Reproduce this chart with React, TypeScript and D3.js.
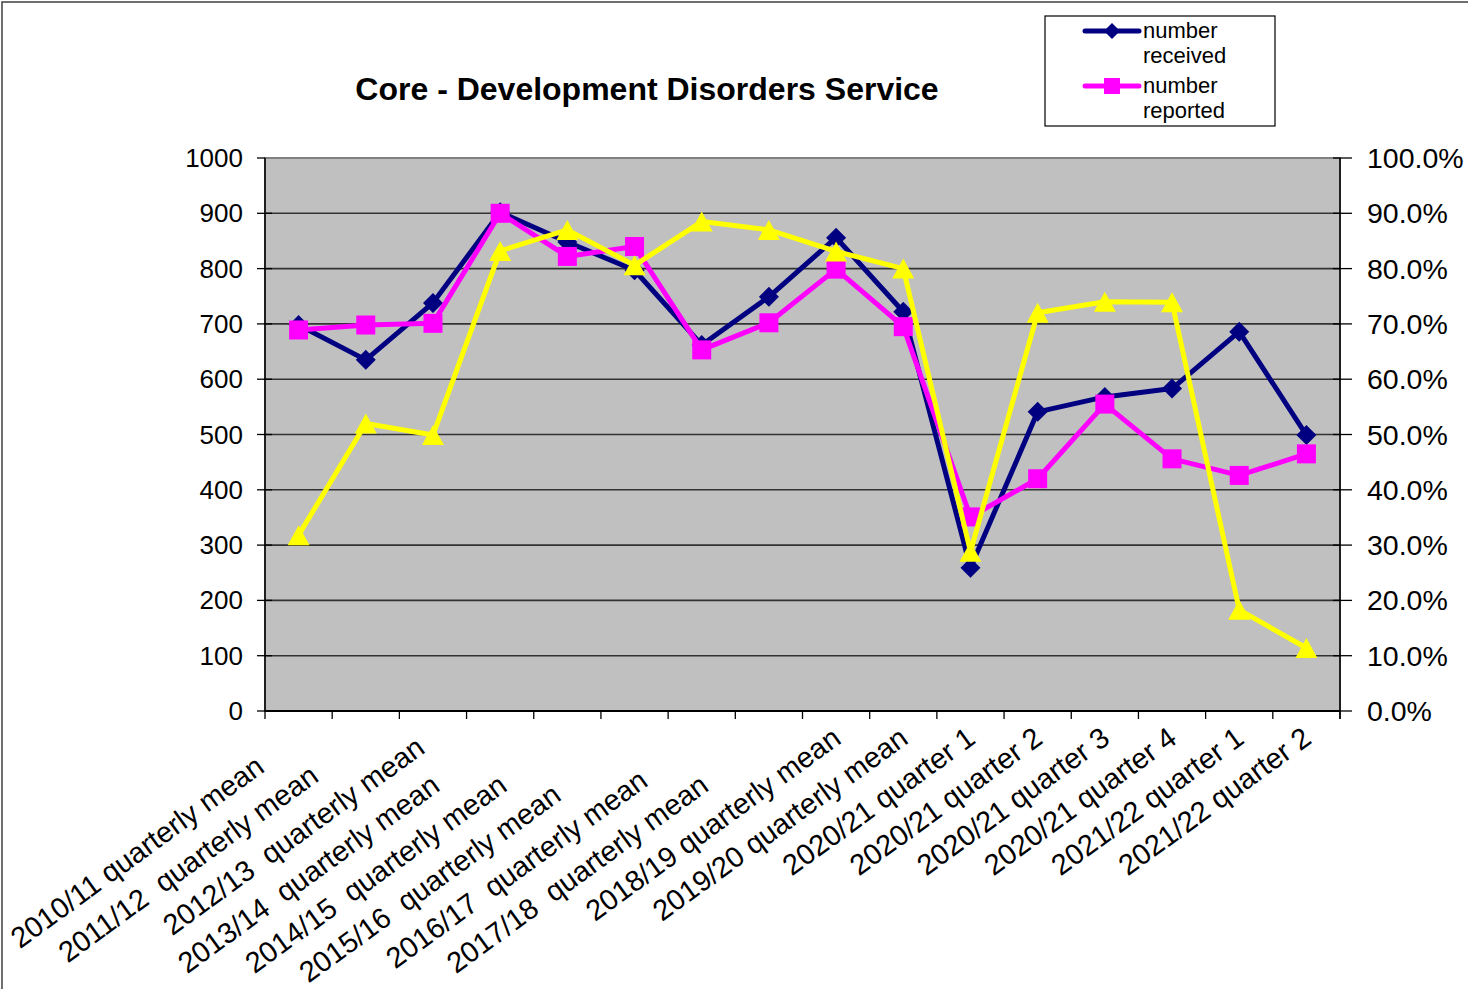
import React from "react";
import * as d3 from "d3";

const categories: string[] = [
  "2010/11 quarterly mean      ",
  "2011/12  quarterly mean        ",
  "2012/13  quarterly mean  ",
  "2013/14  quarterly mean          ",
  "2014/15  quarterly mean          ",
  "2015/16  quarterly mean            ",
  "2016/17  quarterly mean         ",
  "2017/18  quarterly mean          ",
  "2018/19 quarterly mean",
  "2019/20 quarterly mean",
  "2020/21 quarter 1",
  "2020/21 quarter 2",
  "2020/21 quarter 3",
  "2020/21 quarter 4",
  "2021/22 quarter 1",
  "2021/22 quarter 2",
];

const numberReceived: number[] = [698, 635, 738, 902, 848, 797, 662, 749, 856, 722, 259, 541, 568, 583, 686, 499];
const numberReported: number[] = [689, 698, 701, 900, 822, 840, 653, 702, 799, 695, 351, 420, 555, 456, 426, 465];
const percentReported: number[] = [0.318, 0.52, 0.499, 0.832, 0.87, 0.806, 0.885, 0.87, 0.831, 0.8, 0.288, 0.72, 0.74, 0.739, 0.183, 0.114];

const leftTicks: number[] = [0, 100, 200, 300, 400, 500, 600, 700, 800, 900, 1000];
const rightTicks: number[] = [0, 0.1, 0.2, 0.3, 0.4, 0.5, 0.6, 0.7, 0.8, 0.9, 1.0];

const title = "Core - Development Disorders Service";
const legendItems = [
  { lines: ["number", "received"], color: "#000080", marker: "diamond" },
  { lines: ["number", "reported"], color: "#FF00FF", marker: "square" },
];

const FONT = "'Liberation Sans', Arial, sans-serif";

export default function App() {
  const W = 1468, H = 989;
  const left = 265, right = 1340, top = 158, bottom = 711;
  const x = d3.scaleBand<number>().domain(d3.range(categories.length)).range([left, right]);
  const cx = (i: number) => (x(i) as number) + x.bandwidth() / 2;
  const y = d3.scaleLinear().domain([0, 1000]).range([bottom, top]);
  const yR = d3.scaleLinear().domain([0, 1]).range([bottom, top]);

  const pathRec = d3.line<number>().x((_, i) => cx(i)).y((d) => y(d))(numberReceived) as string;
  const pathRep = d3.line<number>().x((_, i) => cx(i)).y((d) => y(d))(numberReported) as string;
  const pathPct = d3.line<number>().x((_, i) => cx(i)).y((d) => yR(d))(percentReported) as string;

  const diamond = (px: number, py: number, r = 10) => `M${px},${py - r}L${px + r},${py}L${px},${py + r}L${px - r},${py}Z`;
  const triangle = (px: number, py: number) => `M${px},${py - 10}L${px + 11},${py + 10}L${px - 11},${py + 10}Z`;

  const boundaries = d3.range(categories.length + 1).map((i) => left + i * x.step());

  return (
    <svg width={W} height={H} style={{ position: "absolute", left: 0, top: 0, background: "#fff" }} fontFamily={FONT}>
      <rect x={2} y={2} width={W + 10} height={H + 10} fill="#fff" stroke="#404040" strokeWidth={1.5} />
      <text x={647} y={100} textAnchor="middle" fontSize={32} fontWeight="bold" fill="#000">{title}</text>

      {/* plot area */}
      <rect x={left} y={top} width={right - left} height={bottom - top} fill="#C0C0C0" stroke="#808080" strokeWidth={2} />
      {leftTicks.filter((t) => t > 0 && t < 1000).map((t) => (
        <line key={"g" + t} x1={left} x2={right} y1={y(t)} y2={y(t)} stroke="#333" strokeWidth={1.6} />
      ))}
      {/* axes */}
      <line x1={left} x2={left} y1={top} y2={bottom} stroke="#000" strokeWidth={1.5} />
      <line x1={right} x2={right} y1={top} y2={bottom + 8} stroke="#000" strokeWidth={1.5} />
      <line x1={left} x2={right} y1={bottom} y2={bottom} stroke="#000" strokeWidth={2} />
      {leftTicks.map((t) => (
        <g key={"l" + t}>
          <line x1={left - 8} x2={t === 1000 ? left : left + 7} y1={y(t)} y2={y(t)} stroke="#000" strokeWidth={1.3} />
          <text x={243} y={y(t) + 9} textAnchor="end" fontSize={26} fill="#000">{t}</text>
        </g>
      ))}
      {rightTicks.map((t) => (
        <g key={"r" + t}>
          <line x1={right - 7} x2={right + 12} y1={yR(t)} y2={yR(t)} stroke="#000" strokeWidth={1.3} />
          <text x={1367} y={yR(t) + 10} textAnchor="start" fontSize={28.5} fill="#000">{(t * 100).toFixed(1) + "%"}</text>
        </g>
      ))}
      {boundaries.map((b, i) => (
        <line key={"b" + i} x1={b} x2={b} y1={bottom} y2={bottom + 8} stroke="#000" strokeWidth={1.3} />
      ))}
      {categories.map((c, i) => (
        <text key={"c" + i} transform={`translate(${cx(i) + 6.6},${742}) rotate(-36)`} textAnchor="end" fontSize={29} fill="#000" style={{ whiteSpace: "pre" }}>{c}</text>
      ))}

      {/* series */}
      <path d={pathRec} fill="none" stroke="#000080" strokeWidth={5} strokeLinejoin="round" />
      {numberReceived.map((d, i) => (
        <path key={"d" + i} d={diamond(cx(i), y(d))} fill="#000080" />
      ))}
      <path d={pathRep} fill="none" stroke="#FF00FF" strokeWidth={5} strokeLinejoin="round" />
      {numberReported.map((d, i) => (
        <rect key={"s" + i} x={cx(i) - 9.5} y={y(d) - 9.5} width={19} height={19} fill="#FF00FF" />
      ))}
      <path d={pathPct} fill="none" stroke="#FFFF00" strokeWidth={5} strokeLinejoin="round" />
      {percentReported.map((d, i) => (
        <path key={"t" + i} d={triangle(cx(i), yR(d))} fill="#FFFF00" />
      ))}

      {/* legend */}
      <rect x={1045} y={16} width={230} height={110} fill="#fff" stroke="#000" strokeWidth={1.2} />
      {legendItems.map((it, k) => {
        const ly = 31 + k * 55;
        return (
          <g key={"lg" + k}>
            <line x1={1085} x2={1139} y1={ly} y2={ly} stroke={it.color} strokeWidth={5} strokeLinecap="round" />
            {it.marker === "diamond" ? (
              <path d={diamond(1112, ly, 8)} fill={it.color} />
            ) : (
              <rect x={1104} y={ly - 8} width={16} height={16} fill={it.color} />
            )}
            {it.lines.map((t, j) => (
              <text key={j} x={1143} y={ly + 7 + j * 25} fontSize={22} fill="#000">{t}</text>
            ))}
          </g>
        );
      })}
    </svg>
  );
}
